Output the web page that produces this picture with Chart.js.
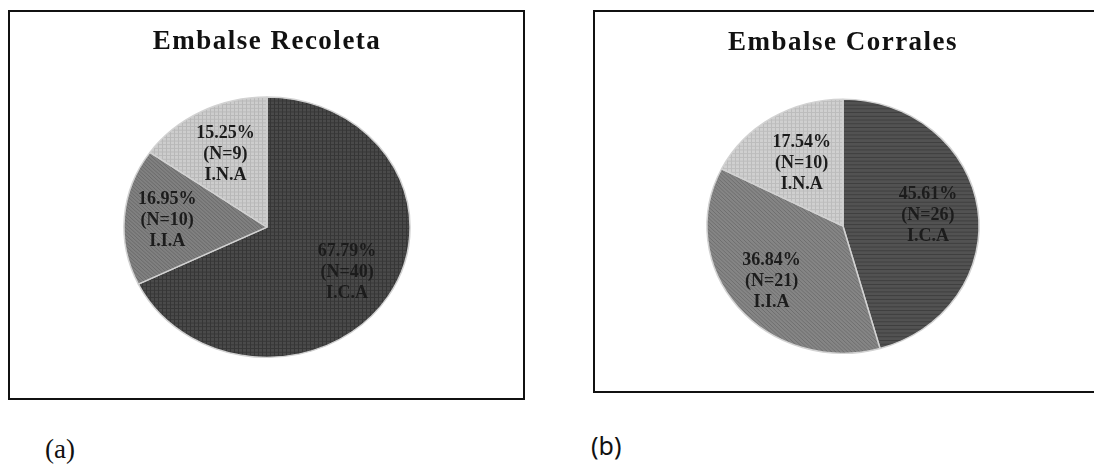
<!DOCTYPE html>
<html lang="es">
<head>
    <meta charset="UTF-8">
    <title>Embalse Recoleta / Embalse Corrales</title>
    <script src="https://cdn.jsdelivr.net/npm/chart.js"></script>
    <style>
        body {
            margin: 0;
            width: 1094px;
            height: 471px;
            overflow: hidden;
            background: #fff;
            position: relative;
        }

        .box {
            position: absolute;
            border: 2px solid #111;
            box-sizing: border-box;
            background: #fff;
        }

        .box canvas {
            position: absolute;
            left: 0;
            top: 0;
        }

        .caption {
            position: absolute;
            line-height: 1;
            color: #111;
        }

        #capA {
            left: 45px;
            top: 436px;
            font-family: 'Liberation Serif', serif;
            font-size: 27px;
        }

        #capB {
            left: 591px;
            top: 433px;
            font-family: 'Noto Sans', sans-serif;
            font-size: 25px;
        }
    </style>
</head>
<body>
    <div class="box" style="left:8px; top:10px; width:517px; height:390px;">
        <canvas id="recoletaChart" width="513" height="386"></canvas>
    </div>
    <div class="box" style="left:593px; top:10px; width:510px; height:383px;">
        <canvas id="corralesChart" width="506" height="379"></canvas>
    </div>
    <div class="caption" id="capA">(a)</div>
    <div class="caption" id="capB">(b)</div>

    <script>
        const categories = ['I.C.A', 'I.I.A', 'I.N.A'];

        const recoletaPct = [67.79, 16.95, 15.25];
        const recoletaN = [40, 10, 9];

        const corralesPct = [45.61, 36.84, 17.54];
        const corralesN = [26, 21, 10];

        // small tiled patterns to mimic the printed hatching
        function hatch(base, line, kind) {
            const c = document.createElement('canvas');
            c.width = 4;
            c.height = 4;
            const g = c.getContext('2d');
            g.fillStyle = base;
            g.fillRect(0, 0, 4, 4);
            g.fillStyle = line;
            if (kind === 'grid') {
                g.fillRect(0, 0, 4, 1);
                g.fillRect(0, 0, 1, 4);
            } else if (kind === 'diag') {
                for (let i = 0; i < 4; i++) g.fillRect(i, i, 1, 1);
            } else {
                g.fillRect(0, 0, 4, 1);
            }
            return g.createPattern(c, 'repeat');
        }

        // wider letter spacing for the title, like the scanned original
        const spacing = {
            id: 'spacing',
            beforeDraw(chart) {
                chart.ctx.letterSpacing = '1.5px';
            },
            beforeDatasetsDraw(chart) {
                chart.ctx.letterSpacing = '0px';
            }
        };

        // squash the pie vertically so it looks like the tilted original
        const squash = {
            id: 'squash',
            beforeDatasetsDraw(chart, args, opts) {
                const a = chart.chartArea;
                const cx = (a.left + a.right) / 2, cy = (a.top + a.bottom) / 2;
                const ctx = chart.ctx;
                ctx.save();
                ctx.translate(cx, cy);
                ctx.scale(1, opts.ratio);
                ctx.translate(-cx, -cy);
            },
            afterDatasetsDraw(chart) {
                chart.ctx.restore();
            }
        };

        const sliceLabels = {
            id: 'sliceLabels',
            afterDraw(chart, args, opts) {
                const ctx = chart.ctx;
                const meta = chart.getDatasetMeta(0);
                ctx.save();
                ctx.letterSpacing = '0px';
                ctx.font = "bold 18px 'Liberation Serif', serif";
                ctx.fillStyle = '#1c1c1c';
                ctx.textAlign = 'center';
                ctx.textBaseline = 'middle';
                meta.data.forEach((arc, i) => {
                    const mid = (arc.startAngle + arc.endAngle) / 2;
                    const r = arc.outerRadius * opts.dist[i];
                    const x = arc.x + Math.cos(mid) * r;
                    const y = arc.y + Math.sin(mid) * r * opts.ratio;
                    const lines = [opts.pct[i].toFixed(2) + '%', '(N=' + opts.n[i] + ')', categories[i]];
                    lines.forEach((t, k) => ctx.fillText(t, x, y + (k - 1) * 21));
                });
                ctx.restore();
            }
        };

        function makePie(id, title, pct, n, colors, ratio, dist, pad, titlePad) {
            return new Chart(document.getElementById(id), {
                type: 'pie',
                data: {
                    labels: categories,
                    datasets: [{
                        data: pct,
                        backgroundColor: colors,
                        borderColor: '#d2d2d2',
                        borderWidth: 1.5
                    }]
                },
                options: {
                    responsive: false,
                    animation: false,
                    layout: { padding: pad },
                    plugins: {
                        legend: { display: false },
                        tooltip: { enabled: false },
                        title: {
                            display: true,
                            text: title,
                            color: '#111',
                            font: { family: "'Liberation Serif', serif", size: 27, weight: 'bold' },
                            padding: titlePad
                        },
                        squash: { ratio: ratio },
                        sliceLabels: { ratio: ratio, dist: dist, pct: pct, n: n }
                    }
                },
                plugins: [spacing, squash, sliceLabels]
            });
        }

        makePie('recoletaChart', 'Embalse Recoleta', recoletaPct, recoletaN,
            [hatch('#4a4a4a', '#363636', 'grid'), hatch('#808080', '#696969', 'diag'), hatch('#cdcdcd', '#b8b8b8', 'grid')],
            0.91,
            [0.66, 0.7, 0.63],
            { left: 113, right: 112, top: 0, bottom: 27 },
            { top: 14, bottom: 25 });

        makePie('corralesChart', 'Embalse Corrales', corralesPct, corralesN,
            [hatch('#525252', '#3e3e3e', 'line'), hatch('#858585', '#6e6e6e', 'diag'), hatch('#d0d0d0', '#bcbcbc', 'grid')],
            0.934,
            [0.63, 0.68, 0.58],
            { left: 111, right: 121, top: 0, bottom: 28 },
            { top: 15, bottom: 30 });
    </script>
</body>
</html>
